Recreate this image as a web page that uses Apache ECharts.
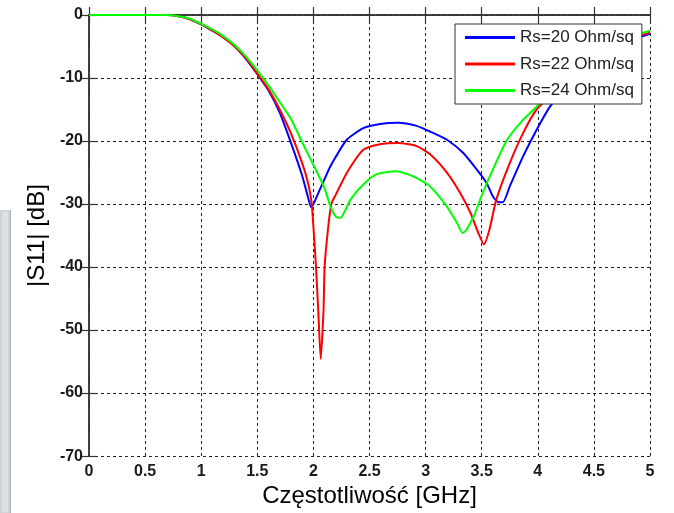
<!DOCTYPE html>
<html>
<head>
<meta charset="utf-8">
<script src="https://cdn.jsdelivr.net/npm/echarts@6/dist/echarts.min.js"></script>
<style>
html,body{margin:0;padding:0;background:#fff;}
#chart{width:674px;height:513px;}
</style>
</head>
<body>
<div id="chart"></div>
<script>
// ---- data ----
const seriesNames = ['Rs=20 Ohm/sq', 'Rs=22 Ohm/sq', 'Rs=24 Ohm/sq'];
const xTicks = [0, 0.5, 1, 1.5, 2, 2.5, 3, 3.5, 4, 4.5, 5];
const yTicks = [0, -10, -20, -30, -40, -50, -60, -70];

const freq20 = [0, 0.5, 0.7, 0.8, 0.9, 1.0, 1.1, 1.2, 1.3, 1.4, 1.5, 1.6, 1.7, 1.8, 1.9, 1.95, 1.98, 2.0, 2.05, 2.1, 2.146, 2.2, 2.297, 2.445, 2.594, 2.757, 2.92, 3.04, 3.19, 3.336, 3.455, 3.545, 3.6, 3.65, 3.69, 3.75, 3.87, 3.99, 4.11, 4.3, 4.5, 4.75, 5.0];
const s11_20 = [0, 0, 0, -0.2, -0.7, -1.5, -2.5, -3.6, -5.0, -7.0, -9.4, -12.0, -15.5, -20.3, -25.5, -28.8, -30.5, -30.0, -28.0, -26.0, -24.2, -22.5, -19.8, -17.95, -17.3, -17.1, -17.6, -18.5, -19.8, -21.9, -24.5, -26.7, -28.8, -29.7, -29.7, -27.2, -22.4, -18.2, -14.5, -10.3, -7.0, -4.5, -3.0];

const freq22 = [0, 0.5, 0.7, 0.8, 0.9, 1.0, 1.1, 1.2, 1.3, 1.4, 1.5, 1.6, 1.7, 1.8, 1.9, 1.95, 1.985, 2.023, 2.044, 2.065, 2.09, 2.10, 2.13, 2.16, 2.2, 2.3, 2.445, 2.594, 2.757, 2.92, 3.04, 3.19, 3.307, 3.40, 3.47, 3.52, 3.57, 3.63, 3.75, 3.87, 3.99, 4.3, 4.5, 4.75, 5.0];
const s11_22 = [0, 0, 0, -0.2, -0.7, -1.5, -2.5, -3.6, -5.0, -6.9, -9.3, -11.8, -15.0, -18.8, -23.5, -26.5, -30.0, -40.0, -47.2, -54.6, -47.0, -40.0, -34.0, -30.0, -28.5, -25.0, -21.4, -20.5, -20.3, -20.8, -22.1, -25.0, -28.2, -31.4, -34.6, -36.4, -34.0, -29.3, -23.5, -18.7, -15.0, -9.8, -6.5, -4.2, -2.8];

const freq24 = [0, 0.5, 0.7, 0.8, 0.9, 1.0, 1.1, 1.2, 1.3, 1.4, 1.5, 1.6, 1.7, 1.8, 1.9, 2.0, 2.1, 2.15, 2.2, 2.24, 2.33, 2.445, 2.56, 2.74, 2.89, 3.04, 3.19, 3.28, 3.33, 3.36, 3.43, 3.51, 3.6, 3.72, 3.85, 4.02, 4.25, 4.5, 4.75, 5.0];
const s11_24 = [0, 0, 0, -0.2, -0.6, -1.4, -2.3, -3.4, -4.8, -6.6, -8.8, -11.2, -13.8, -16.5, -20.2, -23.8, -27.5, -30.3, -32.0, -32.2, -29.3, -26.9, -25.3, -24.8, -25.6, -27.2, -30.4, -33.0, -34.6, -34.2, -31.9, -28.2, -24.5, -20.0, -17.0, -14.0, -9.5, -6.0, -3.8, -2.5];

const colors = ['#0000ff', '#ff0000', '#00ff00'];

function zip(xs, ys) { return xs.map((x, i) => [x, ys[i]]); }

const chart = echarts.init(document.getElementById('chart'), null, {renderer: 'canvas'});
const FONT = '"Liberation Sans", Arial, sans-serif';
const gridDash = {color: '#222', width: 1, type: [3, 3]};
const frame = {show: true, lineStyle: {color: '#333', width: 1.5}};
const tick = {show: true, inside: true, length: 8, lineStyle: {color: '#333', width: 1.2}};

const baseX = {type: 'value', min: 0, max: 5, interval: 0.5};
const baseY = {type: 'value', min: -70, max: 0, interval: 10};

chart.setOption({
  animation: false,
  backgroundColor: '#fff',
  textStyle: {fontFamily: FONT},
  grid: {left: 89, right: 24, top: 15, bottom: 56, containLabel: false},
  graphic: [
    {type: 'rect', shape: {x: 0, y: 210, width: 11, height: 303}, style: {fill: '#d3d7dc', stroke: null}, z: -1},
    {type: 'rect', shape: {x: 1, y: 211, width: 8, height: 302}, style: {fill: '#dde0e4', stroke: '#c4c8cd', lineWidth: 1}, z: -1},
    {type: 'line', shape: {x1: 10.5, y1: 210, x2: 10.5, y2: 513}, style: {stroke: '#a9aeb4', lineWidth: 1}, z: -1}
  ],
  xAxis: [
    Object.assign({}, baseX, {
      position: 'bottom',
      name: 'Częstotliwość [GHz]',
      nameLocation: 'middle',
      nameGap: 26,
      nameTextStyle: {fontSize: 24, color: '#000', fontFamily: FONT, verticalAlign: 'top'},
      axisLine: frame,
      axisTick: tick,
      axisLabel: {fontSize: 16, fontWeight: 'bold', color: '#1a1a1a', margin: 7, fontFamily: FONT,
        formatter: v => (xTicks.indexOf(v) >= 0 ? String(v) : '')},
      splitLine: {show: true, lineStyle: gridDash}
    }),
    Object.assign({}, baseX, {
      position: 'top',
      axisLine: frame,
      axisTick: tick,
      axisLabel: {show: false},
      splitLine: {show: false}
    })
  ],
  yAxis: [
    Object.assign({}, baseY, {
      position: 'left',
      name: '|S11| [dB]',
      nameLocation: 'middle',
      nameGap: 39,
      nameRotate: 90,
      nameTextStyle: {fontSize: 24, color: '#000', fontFamily: FONT},
      axisLine: frame,
      axisTick: tick,
      axisLabel: {fontSize: 16, fontWeight: 'bold', color: '#1a1a1a', margin: 6, fontFamily: FONT,
        formatter: v => (yTicks.indexOf(v) >= 0 ? String(v) : '')},
      splitLine: {show: true, lineStyle: gridDash}
    }),
    Object.assign({}, baseY, {
      position: 'right',
      axisLine: frame,
      axisTick: tick,
      axisLabel: {show: false},
      splitLine: {show: false}
    })
  ],
  legend: {
    orient: 'vertical',
    left: 455, top: 24,
    padding: [5, 8, 5, 10],
    itemWidth: 50, itemHeight: 14, itemGap: 9.5,
    backgroundColor: '#fff',
    borderColor: '#333', borderWidth: 1,
    textStyle: {fontSize: 17, color: '#222', fontFamily: FONT},
    data: seriesNames.map((n, i) => ({name: n, icon: 'path://M0,0L50,0L50,3L0,3Z', itemStyle: {color: colors[i]}})),
    z: 10
  },
  series: [
    {name: seriesNames[0], type: 'line', data: zip(freq20, s11_20), symbol: 'none', smooth: 0.2,
      lineStyle: {color: colors[0], width: 2}, itemStyle: {color: colors[0]}, z: 3},
    {name: seriesNames[1], type: 'line', data: zip(freq22, s11_22), symbol: 'none', smooth: 0.2,
      lineStyle: {color: colors[1], width: 2}, itemStyle: {color: colors[1]}, z: 4},
    {name: seriesNames[2], type: 'line', data: zip(freq24, s11_24), symbol: 'none', smooth: 0.2,
      lineStyle: {color: colors[2], width: 2}, itemStyle: {color: colors[2]}, z: 5}
  ]
});
</script>
</body>
</html>
